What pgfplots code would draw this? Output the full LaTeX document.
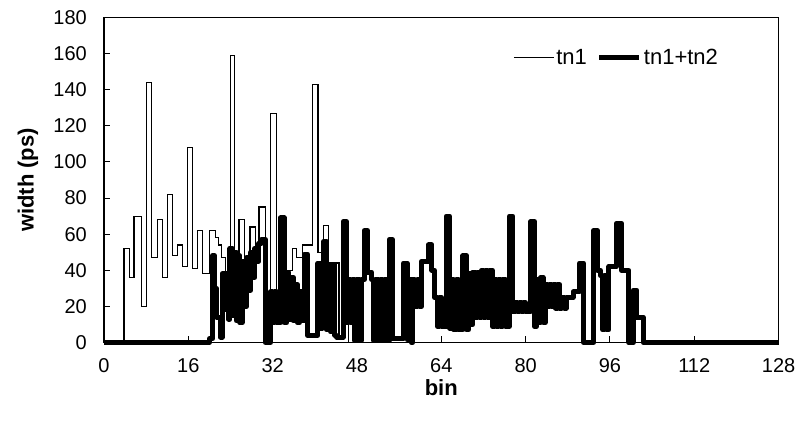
\documentclass[border=0pt]{standalone}
\usepackage{fontspec}
\setmainfont{Liberation Sans}
\usepackage{pgfplots}
\pgfplotsset{compat=1.18}
\begin{document}
\begin{tikzpicture}
\useasboundingbox (-104bp,-82.5bp) rectangle (692bp,342.5bp);
\begin{axis}[
  at={(0,0)}, anchor=south west,
  scale only axis, width=674.6bp, height=325bp,
  xmin=0, xmax=128, ymin=0, ymax=180,
  xtick={0,16,...,128}, ytick={0,20,...,180},
  tick align=inside, xtick pos=bottom, ytick pos=left,
  major tick length=6bp,
  axis line style={line width=1.1bp},
  every tick/.style={line width=1bp, black},
  clip=false,
  /pgf/number format/assume math mode=true,
  tick label style={font=\fontsize{20bp}{22bp}\selectfont},
  xticklabel style={anchor=north, inner sep=0pt, yshift=-15.5bp},
  yticklabel style={anchor=east, inner sep=0pt, xshift=-17bp},
  xlabel={\textbf{bin}}, ylabel={\textbf{width (ps)}},
  label style={font=\fontsize{22bp}{24bp}\selectfont},
  xlabel style={at={(axis description cs:0.5,-0.14)}, anchor=center, inner sep=0pt},
  ylabel style={at={(axis description cs:-0.1128,0.5)}, anchor=center, inner sep=0pt},
  legend columns=2,
  legend style={at={(axis cs:77.6,158)}, anchor=west, draw=none, fill=none,
    inner sep=0pt, font=\fontsize{22bp}{24bp}\selectfont,
    /tikz/every even column/.append style={column sep=8bp}},
  legend image code/.code={\draw[#1] (0bp,0bp) -- (40bp,0bp);},
]
\addplot[const plot, black, line width=1.2bp] coordinates {
(0,0) (3.8,52) (4.9,36) (5.7,70) (7.15,20) (8.1,144) (9.05,47) (10.1,68)
(11.05,36) (12.0,82) (13.0,48) (13.9,54) (14.9,42) (15.9,108) (16.75,41)
(17.8,62) (18.65,38) (20.0,62) (21.1,58) (21.7,54) (22.3,47) (23.0,38)
(24.0,159) (24.7,43) (25.6,68) (26.6,33) (27.7,64) (28.7,53) (29.4,75)
(30.6,1) (31.6,127) (32.7,22) (33.6,40) (35.7,52) (36.6,47) (37.6,54)
(39.5,143) (40.6,50) (41.6,65) (42.6,44) (44.6,3) (45.4,35) (46.4,0) (64,0)
};
\addlegendentry{tn1}
\addplot[const plot, black, line width=5bp, line join=round] coordinates {
(0,0) (20.0,2)
(20.6,48) (21.0,30) (21.4,14)
(22.1,3) (22.4,38) (22.8,18) (23.2,38) (23.6,13)
(23.9,52) (24.3,15) (24.7,50) (25.1,12) (25.5,48) (25.8,11)
(26.2,45) (26.6,20) (27.0,47) (27.4,29) (27.8,50) (28.2,36) (28.6,52) (29.0,45) (29.4,55) (29.8,57)
(30.6,0)
(31.6,28) (32.0,11) (32.4,28) (32.8,11)
(33.5,69) (34.2,11)
(34.7,39) (35.1,13) (35.5,36) (35.9,12) (36.3,32) (36.7,11) (37.1,28) (37.6,12)
(38.0,49) (38.6,4)
(40.6,44) (41.0,8) (41.4,44) (41.7,56) (42.2,7) (42.6,43) (43.0,6) (43.4,43) (43.8,4)
(44.2,3)
(45.4,67) (46.0,11) (46.4,35) (46.8,11) (47.2,35) (47.6,1) (48.0,35) (48.4,1) (48.8,35)
(49.4,62) (50.0,39) (50.8,35) (51.2,1) (51.6,35) (52.0,1) (52.4,35) (52.8,1) (53.2,35) (53.6,1)
(54.1,57) (54.7,2)
(56.8,44) (57.5,1.5) (58.0,35) (58.3,0) (58.6,35) (59.0,20) (59.4,35) (59.8,20)
(60.2,45) (61.6,54) (62.2,40) (62.7,25) (63.3,9) (63.7,25) (64.1,9)
(64.9,70) (65.6,8) (66.0,35) (66.4,7) (66.8,35) (67.2,7)
(68.1,48) (68.8,7) (69.2,38) (69.6,10) (70.0,39) (70.4,14) (70.8,39) (71.2,14) (71.6,40) (72.0,14)
(72.4,40) (72.8,14) (73.2,40) (73.7,9) (74.1,35) (74.5,9) (74.9,35) (75.3,9) (75.7,35) (76.1,9)
(76.9,70) (77.6,17) (78.0,22) (78.4,17) (78.8,22) (79.2,17) (79.6,22) (80.0,17)
(81.0,67) (81.7,9) (82.1,35) (82.5,11) (82.9,36) (83.3,11) (83.7,32) (84.1,20) (84.5,32) (84.9,20)
(85.3,32) (85.7,19) (86.1,32) (86.5,19) (86.9,25) (87.3,19) (87.7,25) (89.0,28)
(90.2,44) (91.0,0) (92.9,62) (93.6,40) (94.2,37) (94.6,7) (95.0,37) (95.4,7) (95.8,42)
(97.2,66) (98.2,40) (99.6,0) (100.4,29) (101.1,14) (102.3,0) (128,0)
};
\addlegendentry{tn1+tn2}
\end{axis}
\draw[line width=1.1bp] (0,0) rectangle (674.6bp,325bp);
\end{tikzpicture}
\end{document}
